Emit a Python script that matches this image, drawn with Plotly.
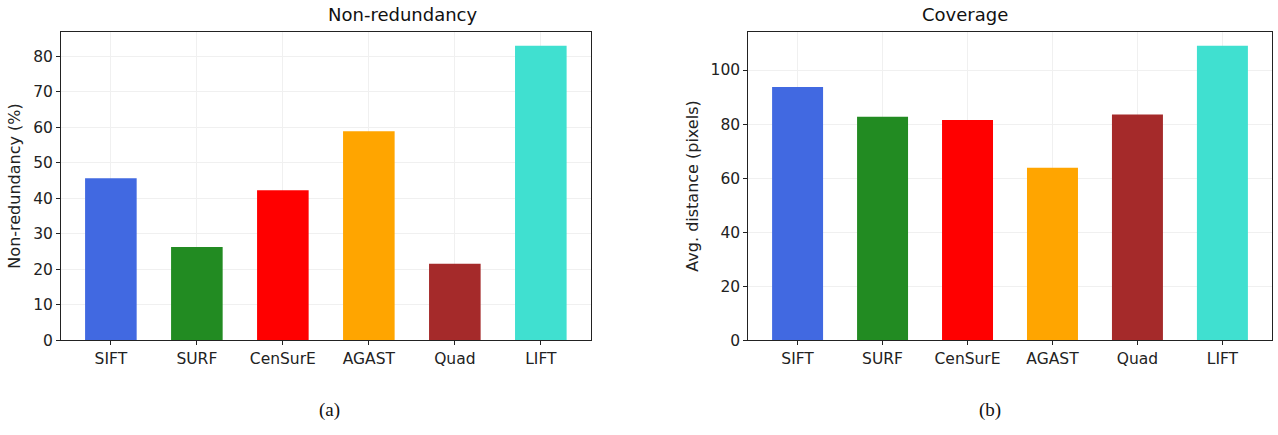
import plotly.graph_objects as go

detectors = ["SIFT", "SURF", "CenSurE", "AGAST", "Quad", "LIFT"]
non_redundancy = [45.7, 26.3, 42.3, 58.9, 21.6, 83.0]
avg_distance = [93.7, 82.7, 81.5, 63.8, 83.5, 109.0]
bar_colors = ["royalblue", "forestgreen", "red", "orange", "brown", "turquoise"]

W, H = 1278, 435
font_family = "DejaVu Sans"

fig = go.Figure()
fig.add_trace(go.Bar(x=detectors, y=non_redundancy, marker_color=bar_colors,
                     marker_line_width=0, width=0.6, xaxis="x", yaxis="y",
                     showlegend=False))
fig.add_trace(go.Bar(x=detectors, y=avg_distance, marker_color=bar_colors,
                     marker_line_width=0, width=0.6, xaxis="x2", yaxis="y2",
                     showlegend=False))

axis_common = dict(showline=True, linecolor="#222", linewidth=1, mirror=True,
                   ticks="outside", ticklen=4, tickcolor="#222",
                   showgrid=True, gridcolor="#f0f0f0", gridwidth=1,
                   tickfont=dict(size=15.5, color="#222"), zeroline=False)

y_dom = [(H - 347.5) / H, (H - 32.3) / H]
axis_title_font = dict(size=16, color="#222")

fig.update_layout(
    width=W, height=H,
    margin=dict(l=0, r=0, t=0, b=0),
    paper_bgcolor="white", plot_bgcolor="white",
    font=dict(family=font_family, color="#222"),
    xaxis=dict(domain=[61 / W, 590.7 / W], range=[-0.58, 5.58], anchor="y", **axis_common),
    yaxis=dict(domain=y_dom, range=[0, 87.0], dtick=10, anchor="x",
               title=dict(text="Non-redundancy (%)", font=axis_title_font, standoff=8),
               **axis_common),
    xaxis2=dict(domain=[748.3 / W, 1271.7 / W], range=[-0.58, 5.58], anchor="y2", **axis_common),
    yaxis2=dict(domain=y_dom, range=[0, 114.2], dtick=20, anchor="x2",
                title=dict(text="Avg. distance (pixels)", font=axis_title_font, standoff=8),
                **axis_common),
    annotations=[
        dict(text="Non-redundancy", x=(61 + 590.7) / 2 / W, y=(H - 15) / H, xref="paper", yref="paper",
             showarrow=False, font=dict(size=18, color="#111"), yanchor="middle"),
        dict(text="Coverage", x=(748.3 + 1271.7) / 2 / W, y=(H - 15) / H, xref="paper", yref="paper",
             showarrow=False, font=dict(size=18, color="#111"), yanchor="middle"),
        dict(text="(a)", x=317 / W, y=(H - 419) / H, xref="paper", yref="paper",
             showarrow=False, font=dict(size=19, family="Liberation Serif", color="#111"),
             yanchor="middle"),
        dict(text="(b)", x=1003 / W, y=(H - 419) / H, xref="paper", yref="paper",
             showarrow=False, font=dict(size=19, family="Liberation Serif", color="#111"),
             yanchor="middle"),
    ],
)

fig.write_html("out.html")
